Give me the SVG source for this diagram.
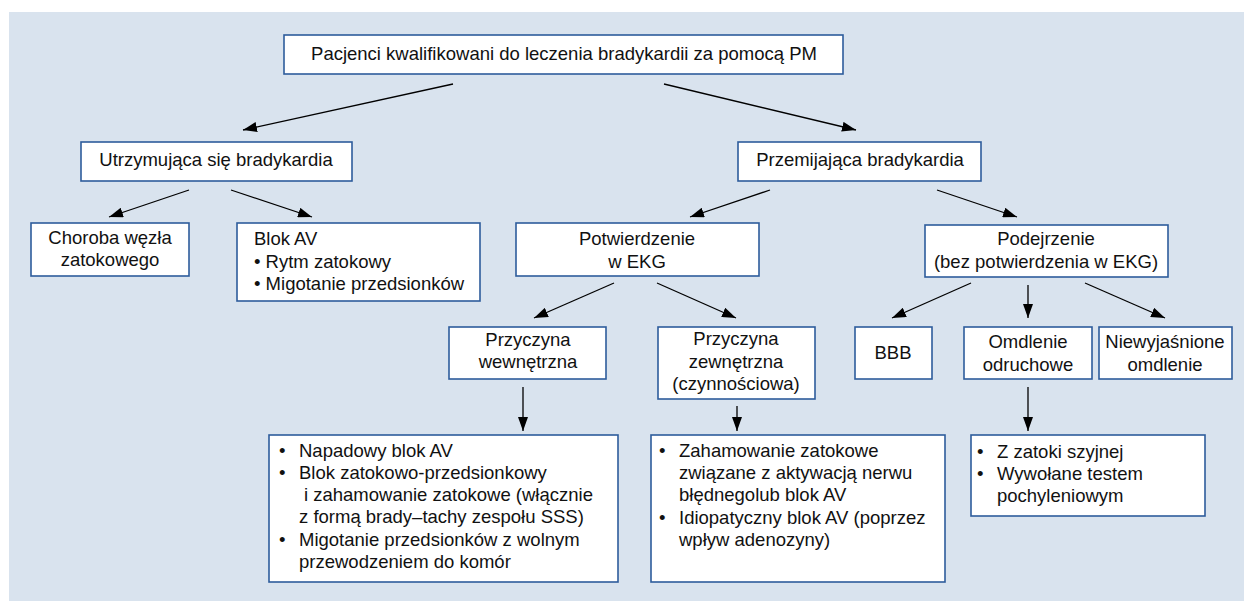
<svg xmlns="http://www.w3.org/2000/svg" width="1244" height="601" viewBox="0 0 1244 601">
<defs>
<marker id="ah" viewBox="0 0 14 10" refX="14" refY="5" markerWidth="14" markerHeight="10" markerUnits="userSpaceOnUse" orient="auto">
<path d="M0,0 L14,5 L0,10 z" fill="#000"/>
</marker>
<style>
.box{fill:#fff;stroke:#2d5c9c;stroke-width:1.6}
.t{font-family:"Liberation Sans",Arial,sans-serif;font-size:18.5px;fill:#111}
.c{text-anchor:middle}
.conn line{stroke:#000;stroke-width:1.3;marker-end:url(#ah)}
</style>
</defs>
<rect x="9" y="12" width="1235" height="589" fill="#d9e3ee"/>

<g id="n-top"><rect class="box" x="284" y="35" width="559" height="39"/>
<text class="t c" x="564" y="60">Pacjenci kwalifikowani do leczenia bradykardii za pomocą PM</text></g>

<g id="n-utrz"><rect class="box" x="81" y="142" width="271" height="39"/>
<text class="t c" x="216" y="166">Utrzymująca się bradykardia</text></g>

<g id="n-przem"><rect class="box" x="738" y="142" width="243" height="39"/>
<text class="t c" x="860" y="166">Przemijająca bradykardia</text></g>

<g id="n-choroba"><rect class="box" x="31" y="223" width="158" height="53"/>
<text class="t c" x="110" y="244">Choroba węzła</text>
<text class="t c" x="110" y="266">zatokowego</text></g>

<g id="n-blok"><rect class="box" x="237" y="223" width="243" height="78"/>
<text class="t" x="254" y="245">Blok AV</text>
<text class="t" x="254" y="268">• Rytm zatokowy</text>
<text class="t" x="254" y="290">• Migotanie przedsionków</text></g>

<g id="n-potw"><rect class="box" x="516" y="223" width="243" height="53"/>
<text class="t c" x="637" y="245">Potwierdzenie</text>
<text class="t c" x="637" y="268">w EKG</text></g>

<g id="n-podej"><rect class="box" x="925" y="225" width="243" height="52"/>
<text class="t c" x="1046" y="245">Podejrzenie</text>
<text class="t c" x="1046" y="268">(bez potwierdzenia w EKG)</text></g>

<g id="n-wewn"><rect class="box" x="449" y="327" width="157" height="52"/>
<text class="t c" x="528" y="346">Przyczyna</text>
<text class="t c" x="528" y="368">wewnętrzna</text></g>

<g id="n-zewn"><rect class="box" x="658" y="327" width="157" height="72"/>
<text class="t c" x="736" y="345">Przyczyna</text>
<text class="t c" x="736" y="368">zewnętrzna</text>
<text class="t c" x="736" y="390">(czynnościowa)</text></g>

<g id="n-bbb"><rect class="box" x="855" y="327" width="77" height="52"/>
<text class="t c" x="893" y="359">BBB</text></g>

<g id="n-omdl"><rect class="box" x="964" y="327" width="128" height="52"/>
<text class="t c" x="1028" y="348">Omdlenie</text>
<text class="t c" x="1028" y="371">odruchowe</text></g>

<g id="n-niew"><rect class="box" x="1099" y="327" width="133" height="52"/>
<text class="t c" x="1165" y="348">Niewyjaśnione</text>
<text class="t c" x="1165" y="371">omdlenie</text></g>

<g id="n-list1"><rect class="box" x="269" y="435" width="349" height="147"/>
<text class="t" x="279" y="457">•</text><text class="t" x="299" y="457">Napadowy blok AV</text>
<text class="t" x="279" y="479">•</text><text class="t" x="299" y="479">Blok zatokowo-przedsionkowy</text>
<text class="t" x="304" y="501">i zahamowanie zatokowe (włącznie</text>
<text class="t" x="299" y="523">z formą brady–tachy zespołu SSS)</text>
<text class="t" x="279" y="546">•</text><text class="t" x="299" y="546">Migotanie przedsionków z wolnym</text>
<text class="t" x="299" y="568">przewodzeniem do komór</text></g>

<g id="n-list2"><rect class="box" x="651" y="435" width="294" height="147"/>
<text class="t" x="659" y="457">•</text><text class="t" x="679" y="457">Zahamowanie zatokowe</text>
<text class="t" x="679" y="479">związane z aktywacją nerwu</text>
<text class="t" x="679" y="501">błędnegolub blok AV</text>
<text class="t" x="659" y="524">•</text><text class="t" x="679" y="524">Idiopatyczny blok AV (poprzez</text>
<text class="t" x="679" y="546">wpływ adenozyny)</text></g>

<g id="n-list3"><rect class="box" x="971" y="435" width="234" height="81"/>
<text class="t" x="977" y="458">•</text><text class="t" x="997" y="458">Z zatoki szyjnej</text>
<text class="t" x="977" y="480">•</text><text class="t" x="997" y="480">Wywołane testem</text>
<text class="t" x="997" y="502">pochyleniowym</text></g>

<g id="connectors" class="conn">
<line x1="453" y1="84" x2="243" y2="130"/>
<line x1="664" y1="84" x2="856" y2="130"/>
<line x1="189" y1="190" x2="109" y2="217"/>
<line x1="231" y1="190" x2="312" y2="217"/>
<line x1="770" y1="190" x2="690" y2="217"/>
<line x1="937" y1="190" x2="1017" y2="217"/>
<line x1="614" y1="283" x2="534" y2="318"/>
<line x1="657" y1="283" x2="736" y2="318"/>
<line x1="971" y1="283" x2="892" y2="318"/>
<line x1="1028" y1="285" x2="1028" y2="318"/>
<line x1="1085" y1="283" x2="1165" y2="318"/>
<line x1="523" y1="387" x2="523" y2="431"/>
<line x1="737" y1="406" x2="737" y2="431"/>
<line x1="1028" y1="387" x2="1028" y2="431"/>
</g>
</svg>
